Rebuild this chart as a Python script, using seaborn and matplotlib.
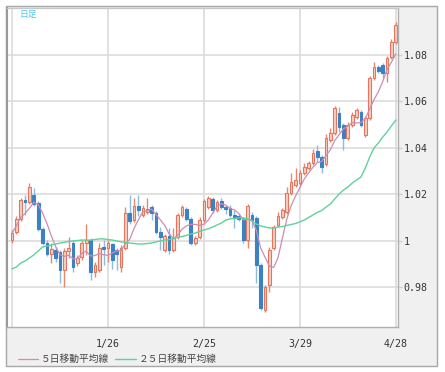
import numpy as np
import pandas as pd
import matplotlib
matplotlib.use("Agg")
import matplotlib.pyplot as plt
import seaborn as sns
from matplotlib.patches import Rectangle

# ---------------- data ----------------
open_ = [1.0004, 1.0039, 1.0095, 1.0176, 1.0168, 1.0198, 1.0163, 1.0052, 0.9991, 0.9944,
         0.9961, 0.9953, 0.9875, 0.9957, 0.9991, 0.9905, 0.9931, 0.9991, 1.0004, 0.9867,
         0.9875, 0.9974, 0.9970, 0.9987, 0.9961, 0.9888, 0.9970, 1.0120, 1.0090, 1.0151,
         1.0112, 1.0125, 1.0146, 1.0120, 1.0039, 0.9961, 1.0022, 0.9961, 1.0017, 1.0112,
         1.0138, 1.0095, 0.9991, 1.0017, 1.0090, 1.0146, 1.0181, 1.0133, 1.0172, 1.0146,
         1.0142, 1.0112, 1.0108, 1.0095, 1.0004, 1.0112, 1.0099, 0.9897, 0.9703, 0.9811,
         0.9970, 1.0069, 1.0103, 1.0125, 1.0206, 1.0241, 1.0249, 1.0292, 1.0314, 1.0335,
         1.0387, 1.0361, 1.0331, 1.0434, 1.0465, 1.0551, 1.0499, 1.0443, 1.0499, 1.0533,
         1.0555, 1.0456, 1.0529, 1.0701, 1.0748, 1.0757, 1.0723, 1.0791, 1.0856]
close = [1.0034, 1.0095, 1.0176, 1.0168, 1.0232, 1.0159, 1.0052, 0.9991, 0.9944, 0.9966,
         0.9927, 0.9875, 0.9957, 0.9970, 0.9888, 0.9927, 0.9991, 1.0004, 0.9867, 0.9897,
         0.9970, 0.9966, 0.9991, 0.9918, 0.9944, 0.9970, 1.0120, 1.0086, 1.0151, 1.0133,
         1.0142, 1.0138, 1.0120, 1.0039, 1.0017, 1.0022, 0.9961, 1.0013, 1.0112, 1.0146,
         1.0095, 0.9991, 1.0013, 1.0090, 1.0172, 1.0185, 1.0133, 1.0168, 1.0146, 1.0138,
         1.0112, 1.0103, 1.0095, 1.0004, 1.0151, 1.0090, 0.9897, 0.9712, 0.9802, 0.9961,
         1.0060, 1.0108, 1.0133, 1.0206, 1.0254, 1.0262, 1.0292, 1.0318, 1.0335, 1.0378,
         1.0361, 1.0318, 1.0443, 1.0465, 1.0572, 1.0490, 1.0443, 1.0499, 1.0542, 1.0563,
         1.0499, 1.0529, 1.0701, 1.0748, 1.0731, 1.0723, 1.0787, 1.0856, 1.0929]
high = [1.0047, 1.0108, 1.0185, 1.0198, 1.0249, 1.0228, 1.0172, 1.0060, 1.0004, 0.9991,
        0.9974, 0.9961, 0.9970, 1.0017, 1.0004, 0.9940, 1.0004, 1.0073, 1.0013, 0.9910,
        0.9991, 1.0004, 1.0004, 0.9991, 0.9970, 0.9983, 1.0146, 1.0198, 1.0185, 1.0198,
        1.0155, 1.0185, 1.0155, 1.0129, 1.0060, 1.0030, 1.0056, 1.0056, 1.0120, 1.0155,
        1.0146, 1.0103, 1.0022, 1.0103, 1.0181, 1.0194, 1.0189, 1.0176, 1.0185, 1.0155,
        1.0155, 1.0133, 1.0116, 1.0103, 1.0159, 1.0125, 1.0108, 0.9905, 0.9811, 0.9974,
        1.0069, 1.0125, 1.0142, 1.0232, 1.0292, 1.0314, 1.0305, 1.0335, 1.0344, 1.0396,
        1.0413, 1.0370, 1.0460, 1.0486, 1.0581, 1.0576, 1.0508, 1.0512, 1.0555, 1.0572,
        1.0563, 1.0538, 1.0710, 1.0770, 1.0757, 1.0766, 1.0796, 1.0869, 1.0942]
low = [0.9991, 1.0030, 1.0086, 1.0112, 1.0159, 1.0151, 1.0043, 0.9983, 0.9935, 0.9905,
       0.9910, 0.9819, 0.9802, 0.9927, 0.9867, 0.9892, 0.9918, 0.9940, 0.9832, 0.9845,
       0.9867, 0.9897, 0.9910, 0.9880, 0.9875, 0.9867, 0.9961, 1.0073, 1.0082, 1.0108,
       1.0103, 1.0116, 1.0090, 1.0030, 0.9961, 0.9953, 0.9944, 0.9953, 1.0009, 1.0103,
       1.0086, 0.9983, 0.9983, 1.0009, 1.0082, 1.0138, 1.0120, 1.0125, 1.0138, 1.0116,
       1.0103, 1.0056, 1.0086, 0.9991, 0.9970, 1.0056, 0.9819, 0.9703, 0.9695, 0.9781,
       0.9961, 1.0060, 1.0095, 1.0116, 1.0198, 1.0232, 1.0241, 1.0284, 1.0305, 1.0327,
       1.0340, 1.0292, 1.0323, 1.0426, 1.0456, 1.0469, 1.0391, 1.0434, 1.0490, 1.0525,
       1.0490, 1.0447, 1.0520, 1.0692, 1.0723, 1.0701, 1.0684, 1.0783, 1.0847]
ma25 = [0.9880, 0.9888, 0.9905, 0.9914, 0.9927, 0.9940, 0.9957, 0.9974, 0.9978, 0.9983,
        0.9987, 0.9991, 0.9994, 0.9998, 1.0000, 1.0002, 1.0004, 1.0004, 1.0004, 1.0006,
        1.0009, 1.0009, 1.0006, 1.0004, 1.0000, 0.9996, 0.9994, 0.9991, 0.9989, 0.9987,
        0.9987, 0.9989, 0.9991, 0.9996, 1.0000, 1.0004, 1.0006, 1.0011, 1.0015, 1.0019,
        1.0024, 1.0030, 1.0034, 1.0041, 1.0047, 1.0052, 1.0060, 1.0069, 1.0077, 1.0090,
        1.0095, 1.0097, 1.0099, 1.0099, 1.0095, 1.0086, 1.0073, 1.0065, 1.0060, 1.0056,
        1.0056, 1.0060, 1.0062, 1.0067, 1.0071, 1.0075, 1.0082, 1.0090, 1.0101, 1.0112,
        1.0123, 1.0131, 1.0146, 1.0159, 1.0181, 1.0202, 1.0219, 1.0232, 1.0249, 1.0262,
        1.0275, 1.0314, 1.0361, 1.0400, 1.0421, 1.0447, 1.0469, 1.0495, 1.0520]

x_tick_pos = [0, 22, 44, 66, 88]
x_tick_labels = ["", "1/26", "2/25", "3/29", "4/28"]
y_ticks = [0.98, 1.00, 1.02, 1.04, 1.06, 1.08]
y_tick_labels = ["0.98", "1", "1.02", "1.04", "1.06", "1.08"]
legend_labels = ["５日移動平均線", "２５日移動平均線"]
corner_text = "日足"

# ---------------- build frame ----------------
df = pd.DataFrame({"open": open_, "high": high, "low": low, "close": close, "ma25": ma25})
df["idx"] = np.arange(len(df))
df["ma5"] = df["close"].rolling(5, min_periods=1).mean()
up = df["close"] >= df["open"]
body_bottom = np.minimum(df["open"], df["close"])
body_height = np.maximum((df["close"] - df["open"]).abs(), 0.00035)

sns.set_theme(style="white")
plt.rcParams["font.family"] = ["Noto Sans CJK JP", "DejaVu Sans"]

W, H = 445, 372
fig = plt.figure(figsize=(W / 100, H / 100), dpi=100)
fig.patch.set_facecolor("white")
panel = Rectangle((6 / W, 1 - 366 / H), 431 / W, 360 / H,
                  transform=fig.transFigure, facecolor="#f0f0f0",
                  edgecolor="#a8a8a8", lw=1, zorder=-10)
fig.add_artist(panel)
ax = fig.add_axes([7 / W, 1 - 327 / H, 391 / W, 319 / H])
ax.set_zorder(1)
ax.set_facecolor("white")

# wicks
ax.vlines(df["idx"][up], df["low"][up], df["high"][up], color="#e8866f", lw=1, zorder=2)
ax.vlines(df["idx"][~up], df["low"][~up], df["high"][~up], color="#8dbbe2", lw=1, zorder=2)
# bodies
ax.bar(df["idx"][up], body_height[up], bottom=body_bottom[up], width=0.62,
       color="#f7cfc3", edgecolor="#e3775e", lw=0.8, zorder=2.5)
ax.bar(df["idx"][~up], body_height[~up], bottom=body_bottom[~up], width=0.62,
       color="#3a82c4", edgecolor="#3a82c4", lw=0.8, zorder=2.5)

# moving averages
sns.lineplot(data=df, x="idx", y="ma5", ax=ax, color="#cc8db4", lw=0.9,
             label=legend_labels[0], zorder=3)
sns.lineplot(data=df, x="idx", y="ma25", ax=ax, color="#5fd29c", lw=1,
             label=legend_labels[1], zorder=3)

ax.set_xlim(-1.15, 88.5)
ax.set_ylim(0.963, 1.1002)
ax.set_xlabel("")
ax.set_ylabel("")
ax.set_xticks(x_tick_pos, x_tick_labels)
ax.set_yticks(y_ticks, y_tick_labels)
ax.yaxis.tick_right()
ax.tick_params(axis="y", length=3, color="#cfcfcf", width=1, pad=1,
               labelsize=7.2, labelcolor="#333333", right=True, left=False)
ax.tick_params(axis="x", length=0, pad=9, labelsize=7.2, labelcolor="#333333")
for lbl in ax.get_xticklabels() + ax.get_yticklabels():
    lbl.set_fontfamily("DejaVu Sans Mono")
ax.grid(True, color="#dcdcdc", lw=1.2)
ax.set_axisbelow(True)
for side in ["left", "right", "bottom", "top"]:
    ax.spines[side].set_visible(True)
ax.spines["left"].set_color("#9a9a9a")
ax.spines["left"].set_linewidth(1.5)
ax.spines["right"].set_color("#b0b0b0")
ax.spines["bottom"].set_color("#b0b0b0")
ax.spines["top"].set_color("#c8c8c8")
for s in ["right", "bottom", "top"]:
    ax.spines[s].set_linewidth(1)

leg = ax.legend(loc="center left", bbox_to_anchor=(18 / W, 1 - 359 / H),
                bbox_transform=fig.transFigure, ncol=2, frameon=False,
                fontsize=7, handlelength=2.1, handletextpad=0.3,
                columnspacing=0.6, borderpad=0, borderaxespad=0)
for t in leg.get_texts():
    t.set_color("#444444")

fig.text(19 / W, 1 - 14.5 / H, corner_text, color="#55c4ee", fontsize=6.3,
         va="center", ha="left", zorder=5)

fig.savefig("out.png", dpi=100)
